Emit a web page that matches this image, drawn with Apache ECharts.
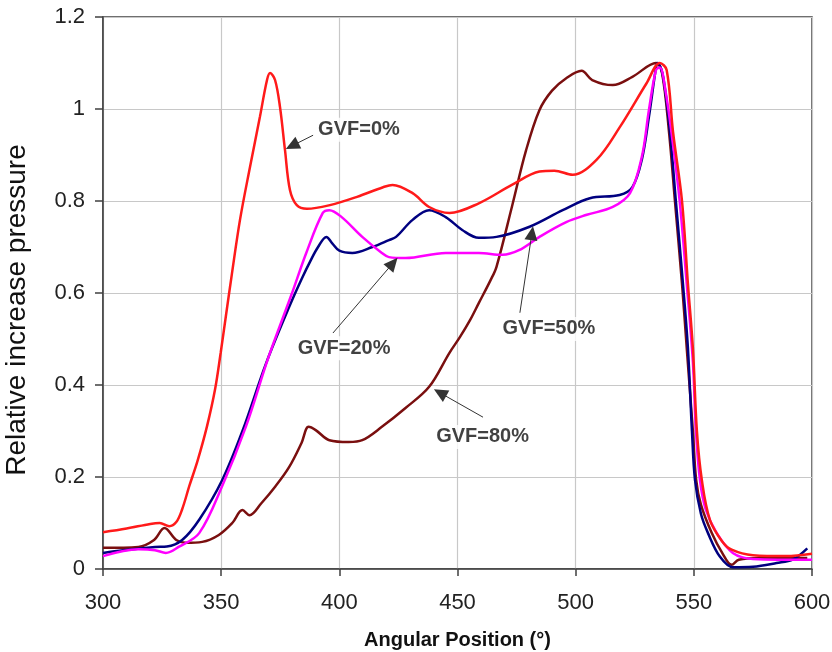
<!DOCTYPE html>
<html>
<head>
<meta charset="utf-8">
<script src="https://cdn.jsdelivr.net/npm/echarts@6/dist/echarts.min.js"></script>
<style>
  html, body { margin: 0; padding: 0; background: #fff; }
  #chart { width: 832px; height: 652px; }
</style>
</head>
<body>
<div id="chart"></div>
<script>
// Pressure rise along the angular position for four gas volume fractions
const gvf0X = [300, 310, 320, 324, 328, 331, 333.5, 336.5, 340, 344, 347.4, 349.8, 352, 354.5, 358, 362.2, 366.4, 369.4, 370.7, 372.8, 374.9, 377, 379.1, 382, 386.3, 396, 407.5, 418.5, 422.5, 431, 438, 446.6, 459, 473, 484.7, 491, 498.7, 508.9, 518.6, 530, 535.6, 538.5, 541.2, 545, 547.5, 549.6, 551.3, 553.4, 556.8, 562, 566, 575, 589, 600];
const gvf0Y = [0.08, 0.088, 0.098, 0.1, 0.093, 0.102, 0.13, 0.18, 0.235, 0.31, 0.39, 0.47, 0.55, 0.64, 0.76, 0.874, 0.983, 1.063, 1.078, 1.063, 1.004, 0.911, 0.824, 0.791, 0.783, 0.791, 0.809, 0.83, 0.835, 0.817, 0.787, 0.774, 0.795, 0.835, 0.864, 0.866, 0.857, 0.89, 0.96, 1.056, 1.1, 1.085, 0.95, 0.8, 0.62, 0.48, 0.3, 0.193, 0.107, 0.06, 0.042, 0.03, 0.028, 0.033];

const gvf20X = [300, 315, 322, 326.6, 332, 340.7, 350.4, 360.5, 370, 380, 386, 393, 395.8, 401, 409.7, 418, 421, 428, 445, 459, 469, 476, 484.7, 496, 504.7, 515.7, 523, 528, 531, 534, 535.6, 538, 541, 544, 547, 549.6, 550.9, 552.6, 555, 559.7, 566.5, 575, 600];
const gvf20Y = [0.028, 0.043, 0.041, 0.035, 0.048, 0.078, 0.18, 0.31, 0.46, 0.6, 0.687, 0.774, 0.78, 0.765, 0.722, 0.687, 0.678, 0.676, 0.687, 0.687, 0.683, 0.693, 0.722, 0.754, 0.77, 0.787, 0.817, 0.896, 0.998, 1.085, 1.09, 1.04, 0.93, 0.8, 0.62, 0.45, 0.3, 0.193, 0.13, 0.078, 0.035, 0.022, 0.02];

const gvf50X = [300, 308.5, 322, 327, 333.5, 340.7, 350.4, 359, 369, 378.8, 384, 388, 391, 394.5, 397, 400, 405.5, 414, 421, 424, 431, 438, 445, 452, 459, 466.5, 480.5, 494.5, 506, 518.6, 524, 528, 531, 534, 534.7, 537, 539.9, 542.4, 545.4, 547.5, 549.2, 550.5, 553, 556, 561, 566.5, 575, 585, 592, 598];
const gvf50Y = [0.035, 0.041, 0.048, 0.049, 0.063, 0.107, 0.193, 0.3, 0.447, 0.57, 0.63, 0.672, 0.7, 0.722, 0.708, 0.692, 0.687, 0.7, 0.715, 0.722, 0.759, 0.78, 0.765, 0.737, 0.72, 0.722, 0.744, 0.78, 0.806, 0.813, 0.83, 0.89, 0.983, 1.09, 1.1, 1.07, 0.948, 0.8, 0.62, 0.48, 0.3, 0.193, 0.12, 0.078, 0.027, 0.004, 0.005, 0.013, 0.021, 0.045];

const gvf80X = [300, 315, 321.6, 326, 331, 335, 342, 349, 354.7, 359, 362, 367, 373, 378.8, 384, 387, 390, 395.8, 404, 409.7, 418, 428, 438, 446.6, 451, 455.3, 459, 464, 466.5, 473, 479, 484.7, 490, 496, 502.5, 507, 515.7, 524, 534, 536.5, 539.5, 542, 545, 547, 549.6, 551, 553, 557.6, 562, 566, 569, 578, 598];
const gvf80Y = [0.046, 0.048, 0.063, 0.089, 0.063, 0.057, 0.059, 0.074, 0.1, 0.128, 0.117, 0.143, 0.18, 0.222, 0.274, 0.309, 0.302, 0.28, 0.276, 0.28, 0.309, 0.35, 0.396, 0.47, 0.504, 0.541, 0.578, 0.628, 0.657, 0.787, 0.91, 0.998, 1.04, 1.067, 1.083, 1.063, 1.052, 1.07, 1.1, 1.08, 0.95, 0.8, 0.62, 0.48, 0.3, 0.193, 0.14, 0.078, 0.035, 0.009, 0.02, 0.024, 0.024];

// Callout labels and the arrows pointing at each curve
const noteText = ['GVF=0%', 'GVF=20%', 'GVF=50%', 'GVF=80%'];
const noteX = [408.3, 402, 488.7, 460.6];
const noteY = [0.955, 0.48, 0.522, 0.287];
const arrowFromX = [388.9, 397.3, 476.4, 460.8];
const arrowFromY = [0.943, 0.513, 0.557, 0.33];
const arrowToX = [380, 422.7, 481.5, 442.6];
const arrowToY = [0.92, 0.665, 0.73, 0.383];

const FONT = 'Liberation Sans, Arial, Helvetica, sans-serif';
const zip = (xs, ys) => xs.map((x, i) => [x, ys[i]]);

function curve(name, xs, ys, color) {
  return {
    name: name,
    type: 'line',
    data: zip(xs, ys),
    smooth: 0.35,
    showSymbol: false,
    symbol: 'none',
    lineStyle: { color: color, width: 2.5 },
    emphasis: { disabled: true },
    animation: false,
    silent: true
  };
}

const chart = echarts.init(document.getElementById('chart'), null, { renderer: 'canvas' });

chart.setOption({
  backgroundColor: '#ffffff',
  animation: false,
  grid: {
    left: 103, right: 20, top: 17, bottom: 83,
    outerBoundsMode: 'none',
    containLabel: false,
    show: true, borderColor: '#404040', borderWidth: 1.5, backgroundColor: 'transparent'
  },
  xAxis: {
    type: 'value',
    min: 300, max: 600, interval: 50,
    name: 'Angular Position (°)',
    nameLocation: 'middle',
    nameGap: 61,
    nameTextStyle: { fontFamily: FONT, fontSize: 20, fontWeight: 'bold', color: '#111' },
    axisLine: { show: true, onZero: false, lineStyle: { color: '#404040', width: 1.5 } },
    axisTick: { show: true, length: 7, lineStyle: { color: '#404040', width: 1.5 } },
    axisLabel: { fontFamily: FONT, fontSize: 22, color: '#222', margin: 23 },
    splitLine: { show: true, lineStyle: { color: '#c8c8c8', width: 1.2 } }
  },
  yAxis: {
    type: 'value',
    min: 0, max: 1.2, interval: 0.2,
    name: 'Relative increase pressure',
    nameLocation: 'middle',
    nameGap: 72,
    nameRotate: 90,
    nameTextStyle: { fontFamily: FONT, fontSize: 28, color: '#111', padding: [0, 34, 0, 0] },
    axisLine: { show: true, onZero: false, lineStyle: { color: '#404040', width: 1.5 } },
    axisTick: { show: true, length: 8, lineStyle: { color: '#404040', width: 1.5 } },
    axisLabel: { fontFamily: FONT, fontSize: 22, color: '#222', margin: 18 },
    splitLine: { show: true, lineStyle: { color: '#c8c8c8', width: 1.2 } }
  },
  series: [
    curve('GVF=80%', gvf80X, gvf80Y, '#7a0f0f'),
    curve('GVF=50%', gvf50X, gvf50Y, '#000080'),
    curve('GVF=20%', gvf20X, gvf20Y, '#ff00ff'),
    curve('GVF=0%', gvf0X, gvf0Y, '#ff1a1a'),
    {
      name: 'notes',
      type: 'scatter',
      symbolSize: 0,
      silent: true,
      animation: false,
      z: 5,
      data: noteText.map((t, i) => ({ value: [noteX[i], noteY[i]], name: t })),
      label: {
        show: true,
        position: 'inside',
        formatter: p => p.name,
        fontFamily: FONT, fontSize: 20, fontWeight: 'bold', color: '#111',
        backgroundColor: '#ffffff',
        padding: [2, 3]
      },
      markLine: {
        silent: true,
        animation: false,
        symbol: ['none', 'triangle'],
        symbolSize: [13, 14],
        label: { show: false },
        lineStyle: { color: '#333', width: 1, type: 'solid' },
        emphasis: { disabled: true },
        data: noteText.map((t, i) => [
          { coord: [arrowFromX[i], arrowFromY[i]] },
          { coord: [arrowToX[i], arrowToY[i]], itemStyle: { color: '#000' } }
        ])
      }
    }
  ]
});
</script>
</body>
</html>
